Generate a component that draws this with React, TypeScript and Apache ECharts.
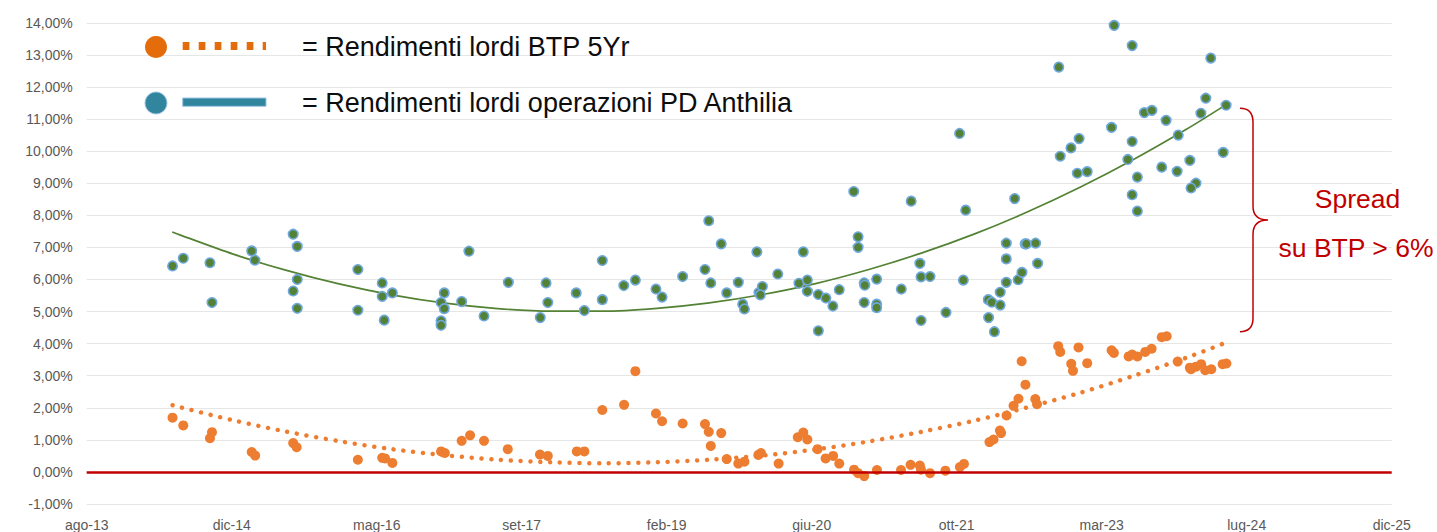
import React, { useEffect, useRef } from "react";
import * as echarts from "echarts";

// ---- Data (dates, yields in %) ----
const anthiliaPD: [string, number][] = [
  ["2014-06-06", 6.42], ["2014-07-13", 6.66], ["2014-10-13", 6.52], ["2014-10-20", 5.28],
  ["2015-03-06", 6.89], ["2015-03-17", 6.6], ["2015-07-27", 7.41], ["2015-08-10", 7.03],
  ["2015-08-10", 6.0], ["2015-07-27", 5.64], ["2015-08-10", 5.1], ["2016-03-06", 6.31],
  ["2016-03-06", 5.04], ["2016-05-29", 5.89], ["2016-05-29", 5.47], ["2016-07-03", 5.58],
  ["2016-06-05", 4.73], ["2016-12-18", 5.28], ["2016-12-29", 5.58], ["2016-12-29", 5.09],
  ["2016-12-18", 4.71], ["2016-12-18", 4.57], ["2017-02-27", 5.31], ["2017-03-24", 6.88],
  ["2017-05-15", 4.86], ["2017-08-07", 5.91], ["2017-11-25", 4.81], ["2017-12-15", 5.89],
  ["2017-12-21", 5.28], ["2018-03-29", 5.58], ["2018-04-26", 5.03], ["2018-06-27", 6.59],
  ["2018-06-27", 5.37], ["2018-09-09", 5.81], ["2018-10-19", 5.98], ["2018-12-29", 5.7],
  ["2019-01-19", 5.45], ["2019-03-31", 6.09], ["2019-06-16", 6.31], ["2019-06-29", 7.83],
  ["2019-07-06", 5.89], ["2019-08-11", 7.11], ["2019-08-30", 5.58], ["2019-10-09", 5.91],
  ["2019-10-24", 5.23], ["2019-10-30", 5.08], ["2019-12-12", 6.86], ["2019-12-19", 5.59],
  ["2019-12-31", 5.78], ["2019-12-24", 5.52], ["2020-02-22", 6.17], ["2020-05-05", 5.88],
  ["2020-05-20", 6.86], ["2020-06-03", 5.98], ["2020-06-03", 5.63], ["2020-07-11", 5.53],
  ["2020-07-11", 4.4], ["2020-08-06", 5.42], ["2020-08-30", 5.17], ["2020-09-21", 5.68],
  ["2020-11-10", 8.74], ["2020-11-25", 7.33], ["2020-11-25", 7.0], ["2020-12-16", 5.89],
  ["2020-12-18", 5.82], ["2020-12-16", 5.28], ["2021-01-28", 6.01], ["2021-01-28", 5.23],
  ["2021-01-28", 5.12], ["2021-04-23", 5.7], ["2021-05-27", 8.44], ["2021-06-26", 6.5],
  ["2021-06-30", 6.08], ["2021-07-31", 6.09], ["2021-06-30", 4.72], ["2021-09-24", 4.97],
  ["2021-11-10", 10.55], ["2021-11-23", 5.98], ["2021-12-01", 8.16], ["2022-02-17", 5.37],
  ["2022-03-01", 5.29], ["2022-02-18", 4.81], ["2022-03-10", 4.37], ["2022-03-30", 5.6],
  ["2022-03-30", 5.2], ["2022-04-20", 7.13], ["2022-04-20", 6.64], ["2022-04-20", 5.91],
  ["2022-05-19", 8.52], ["2022-05-31", 5.99], ["2022-06-13", 6.22], ["2022-06-24", 7.11],
  ["2022-06-28", 7.11], ["2022-07-30", 7.13], ["2022-08-06", 6.5], ["2022-10-18", 12.62],
  ["2022-10-23", 9.84], ["2022-11-29", 10.1], ["2022-12-27", 10.39], ["2022-12-21", 9.31],
  ["2023-01-24", 9.36], ["2023-04-18", 10.74], ["2023-04-27", 13.92], ["2023-06-13", 9.74],
  ["2023-06-28", 13.29], ["2023-06-28", 10.3], ["2023-06-28", 8.64], ["2023-07-16", 9.19],
  ["2023-07-16", 8.13], ["2023-08-09", 11.2], ["2023-09-04", 11.27], ["2023-10-23", 10.96],
  ["2023-10-08", 9.5], ["2023-12-04", 10.5], ["2023-11-30", 9.37], ["2024-01-13", 9.71],
  ["2024-02-03", 9.0], ["2024-01-17", 8.85], ["2024-02-20", 11.18], ["2024-03-08", 11.65],
  ["2024-03-25", 12.9], ["2024-05-17", 11.43], ["2024-05-07", 9.96],
];

const btp5Yr: [string, number][] = [
  ["2014-06-06", 1.69], ["2014-07-13", 1.45], ["2014-10-13", 1.05], ["2014-10-20", 1.24],
  ["2015-03-06", 0.62], ["2015-03-18", 0.51], ["2015-07-27", 0.9], ["2015-08-08", 0.77],
  ["2016-03-06", 0.38], ["2016-05-29", 0.44], ["2016-06-08", 0.42], ["2016-07-03", 0.28],
  ["2016-12-18", 0.64], ["2016-12-31", 0.59], ["2017-02-27", 0.97], ["2017-03-28", 1.14],
  ["2017-05-15", 0.97], ["2017-08-05", 0.71], ["2017-11-24", 0.54], ["2017-12-21", 0.5],
  ["2018-03-31", 0.64], ["2018-04-26", 0.64], ["2018-06-27", 1.93], ["2018-09-10", 2.09],
  ["2018-10-19", 3.14], ["2018-12-29", 1.82], ["2019-01-19", 1.58], ["2019-03-31", 1.51],
  ["2019-06-16", 1.49], ["2019-06-29", 1.25], ["2019-08-11", 1.21], ["2019-07-06", 0.81],
  ["2019-08-30", 0.4], ["2019-10-09", 0.26], ["2019-10-30", 0.32], ["2019-12-17", 0.53],
  ["2019-12-26", 0.59], ["2020-02-25", 0.26], ["2020-05-01", 1.08], ["2020-05-20", 1.23],
  ["2020-06-03", 1.01], ["2020-07-08", 0.71], ["2020-08-05", 0.42], ["2020-08-31", 0.5],
  ["2020-09-21", 0.26], ["2020-11-11", 0.07], ["2020-11-25", -0.04], ["2020-12-16", -0.13],
  ["2021-01-29", 0.06], ["2021-04-22", 0.06], ["2021-05-25", 0.22], ["2021-06-26", 0.2],
  ["2021-06-30", 0.07], ["2021-07-31", -0.04], ["2021-09-22", 0.04], ["2021-11-11", 0.15],
  ["2021-11-25", 0.25], ["2022-02-21", 0.93], ["2022-03-07", 1.01], ["2022-03-29", 1.29],
  ["2022-04-02", 1.21], ["2022-04-21", 1.76], ["2022-05-15", 2.06], ["2022-06-01", 2.28],
  ["2022-06-12", 3.45], ["2022-06-25", 2.72], ["2022-07-29", 2.27], ["2022-08-04", 2.11],
  ["2022-10-16", 3.92], ["2022-10-23", 3.74], ["2022-11-30", 3.37], ["2022-12-06", 3.15],
  ["2022-12-25", 3.88], ["2023-01-24", 3.39], ["2023-04-18", 3.79], ["2023-04-26", 3.71],
  ["2023-06-16", 3.6], ["2023-06-28", 3.66], ["2023-07-16", 3.6], ["2023-08-12", 3.74],
  ["2023-09-03", 3.84], ["2023-10-08", 4.2], ["2023-10-25", 4.23], ["2023-12-02", 3.44],
  ["2024-01-13", 3.25], ["2024-01-17", 3.2], ["2024-02-03", 3.28], ["2024-02-21", 3.36],
  ["2024-03-06", 3.17], ["2024-03-27", 3.2], ["2024-05-05", 3.36], ["2024-05-18", 3.38],
];

// trend lines
const anthiliaTrend: [string, number][] = [
  ["2014-06-05", 7.48], ["2014-07-01", 7.39], ["2015-01-01", 6.79], ["2015-07-01", 6.29],
  ["2016-01-01", 5.86], ["2016-07-01", 5.52], ["2017-01-01", 5.26], ["2017-07-01", 5.09],
  ["2018-01-01", 5.01], ["2018-07-01", 5.01], ["2019-01-01", 5.1], ["2019-07-01", 5.27],
  ["2020-01-01", 5.53], ["2020-07-01", 5.87], ["2021-01-01", 6.31], ["2021-07-01", 6.82],
  ["2022-01-01", 7.42], ["2022-07-01", 8.1], ["2023-01-01", 8.88], ["2023-07-01", 9.73],
  ["2024-01-01", 10.68], ["2024-05-17", 11.45],
];

const btpTrend: [string, number][] = [
  ["2014-06-06", 2.08], ["2014-07-01", 2.02], ["2015-01-01", 1.61], ["2015-07-01", 1.26],
  ["2016-01-01", 0.96], ["2016-07-01", 0.71], ["2017-01-01", 0.52], ["2017-07-01", 0.38],
  ["2018-01-01", 0.3], ["2018-07-01", 0.27], ["2019-01-01", 0.3], ["2019-07-01", 0.38],
  ["2020-01-01", 0.51], ["2020-07-01", 0.7], ["2021-01-01", 0.95], ["2021-07-01", 1.25],
  ["2022-01-01", 1.6], ["2022-07-01", 2.01], ["2023-01-01", 2.47], ["2023-07-01", 2.99],
  ["2024-01-01", 3.56], ["2024-05-13", 4.02],
];

const monthsIT = ["gen", "feb", "mar", "apr", "mag", "giu", "lug", "ago", "set", "ott", "nov", "dic"];
const legendLabels = ["= Rendimenti lordi BTP 5Yr", "= Rendimenti lordi operazioni PD Anthilia"];
const spreadLabels = ["Spread", "su BTP > 6%"];

// Excel-style serial date axis
const X_MIN = 41500;
const X_MAX = 46000;
const X_STEP = 500;

const toSerial = (s: string) => {
  const [y, m, d] = s.split("-").map(Number);
  return Date.UTC(y, m - 1, d) / 86400000 + 25569;
};
const toPoints = (arr: [string, number][]) => arr.map(([d, v]) => [toSerial(d), v]);

let braceRegistered = false;
function registerBrace() {
  if (braceRegistered) return;
  braceRegistered = true;
  const d =
    "M0,0 C9,0 13,5 13,14 L13,98 C13,106 17,111.7 28,111.7 C17,111.7 13,118 13,126 L13,210 C13,218 9,223.4 0,223.4";
  echarts.graphic.registerShape("brace", echarts.graphic.extendPath(d, {}));
}

export default function App() {
  const ref = useRef<HTMLDivElement>(null);

  useEffect(() => {
    document.body.style.margin = "0";
    registerBrace();
    const chart = echarts.init(ref.current!, null, { renderer: "svg" });
    const axisFont = "'Liberation Sans', Arial, sans-serif";
    const textFont = "'Liberation Sans', Arial, sans-serif";

    chart.setOption({
      animation: false,
      grid: { left: 86.7, right: 45.3, top: 22.8, bottom: 24.7, containLabel: false },
      xAxis: {
        type: "value",
        min: X_MIN,
        max: X_MAX,
        interval: X_STEP,
        axisLine: { show: false },
        axisTick: { show: false },
        splitLine: { show: false },
        axisLabel: {
          color: "#595959",
          fontSize: 14,
          fontFamily: axisFont,
          margin: 14,
          formatter: (v: number) => {
            const dt = new Date((v - 25569) * 86400000);
            return monthsIT[dt.getUTCMonth()] + "-" + String(dt.getUTCFullYear()).slice(2);
          },
        },
      },
      yAxis: {
        type: "value",
        min: -1,
        max: 14,
        interval: 1,
        axisLine: { show: false },
        axisTick: { show: false },
        splitLine: { lineStyle: { color: "#E6E6E6", width: 1 } },
        axisLabel: {
          color: "#595959",
          fontSize: 14,
          fontFamily: axisFont,
          margin: 14,
          formatter: (v: number) => v.toFixed(2).replace(".", ",") + "%",
        },
      },
      series: [
        {
          type: "line",
          name: "btpTrend",
          data: toPoints(btpTrend),
          smooth: 0.3,
          showSymbol: false,
          z: 2,
          lineStyle: { color: "#ED7D31", width: 4.5, type: [0.01, 9.8], cap: "round" },
          markLine: {
            silent: true,
            symbol: ["none", "none"],
            label: { show: false },
            lineStyle: { color: "#C00000", width: 2.6, type: "solid" },
            data: [{ yAxis: 0 }],
          },
        },
        {
          type: "line",
          name: "anthiliaTrend",
          data: toPoints(anthiliaTrend),
          smooth: 0.3,
          showSymbol: false,
          z: 2,
          lineStyle: { color: "#548235", width: 1.7 },
        },
        {
          type: "scatter",
          name: "BTP 5Yr",
          data: toPoints(btp5Yr),
          symbolSize: 10,
          z: 3,
          itemStyle: { color: "#ED7D31", opacity: 1 },
        },
        {
          type: "scatter",
          name: "PD Anthilia",
          data: toPoints(anthiliaPD),
          symbolSize: 9.5,
          z: 4,
          itemStyle: { color: "#538135", borderColor: "#6FA8DC", borderWidth: 1.6, opacity: 1 },
        },
      ],
      graphic: [
        { type: "circle", z: 100, shape: { cx: 156, cy: 47, r: 11 }, style: { fill: "#E46C0A" } },
        {
          type: "line",
          z: 100,
          shape: { x1: 182.7, y1: 46, x2: 266, y2: 46 },
          style: { stroke: "#E46C0A", lineWidth: 8, lineDash: [6.7, 9.3] },
        },
        {
          type: "text",
          z: 100,
          style: {
            text: legendLabels[0],
            x: 302,
            y: 46.5,
            fill: "#0D0D0D",
            font: `27px ${textFont}`,
            align: "left",
            verticalAlign: "middle",
          },
        },
        {
          type: "circle",
          z: 100,
          shape: { cx: 156, cy: 103, r: 11 },
          style: { fill: "#31859C", stroke: "#9DC3E6", lineWidth: 1 },
        },
        {
          type: "rect",
          z: 100,
          shape: { x: 182.7, y: 98, width: 83.3, height: 8.3 },
          style: { fill: "#31859C", stroke: "#9DC3E6", lineWidth: 1 },
        },
        {
          type: "text",
          z: 100,
          style: {
            text: legendLabels[1],
            x: 302,
            y: 102.5,
            fill: "#0D0D0D",
            font: `27px ${textFont}`,
            align: "left",
            verticalAlign: "middle",
          },
        },
        {
          type: "brace",
          z: 100,
          x: 1240,
          y: 108.3,
          style: { stroke: "#C00000", fill: "none", lineWidth: 1.5 },
        },
        {
          type: "text",
          z: 100,
          style: {
            text: spreadLabels[0],
            x: 1357.5,
            y: 199,
            fill: "#C00000",
            font: `26.5px ${textFont}`,
            align: "center",
            verticalAlign: "middle",
          },
        },
        {
          type: "text",
          z: 100,
          style: {
            text: spreadLabels[1],
            x: 1356,
            y: 248,
            fill: "#C00000",
            font: `26.5px ${textFont}`,
            align: "center",
            verticalAlign: "middle",
          },
        },
      ],
    });

    return () => chart.dispose();
  }, []);

  return (
    <div
      ref={ref}
      style={{ position: "absolute", left: 0, top: 0, width: 1437, height: 532 }}
    />
  );
}
